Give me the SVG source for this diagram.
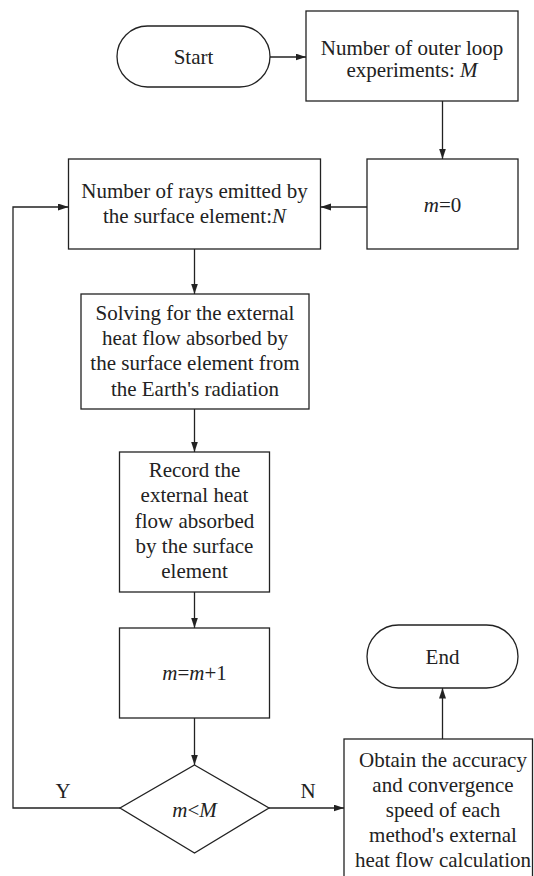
<svg xmlns="http://www.w3.org/2000/svg" width="534" height="876" viewBox="0 0 534 876">
<defs>
<marker id="arr" markerUnits="userSpaceOnUse" markerWidth="11" markerHeight="8" refX="10.5" refY="3.5" orient="auto">
<path d="M0,0 L10.5,3.5 L0,7 z" fill="#222"/>
</marker>
<style>
.n{fill:#fff;stroke:#222;stroke-width:1.3}
.t{font-family:"Liberation Serif","Times New Roman",serif;font-size:21px;fill:#222;text-anchor:middle}
.i{font-style:italic}
.c{fill:none;stroke:#222;stroke-width:1.3}
</style>
</defs>
<rect width="534" height="876" fill="#fff"/>
<g id="start">
<rect class="n" x="117" y="26" width="153" height="61" rx="30.5"/>
<text class="t" x="193.5" y="63.5">Start</text>
</g>
<g id="outer">
<rect class="n" x="306" y="11" width="212" height="90"/>
<text class="t" x="412" y="55">Number of outer loop</text>
<text class="t" x="412" y="77">experiments: <tspan class="i">M</tspan></text>
</g>
<g id="m0">
<rect class="n" x="367" y="159" width="151" height="90"/>
<text class="t" x="442.5" y="212"><tspan class="i">m</tspan>=0</text>
</g>
<g id="rays">
<rect class="n" x="68.5" y="159" width="252" height="90"/>
<text class="t" x="194.5" y="198">Number of rays emitted by</text>
<text class="t" x="194.5" y="223">the surface element:<tspan class="i">N</tspan></text>
</g>
<g id="solve">
<rect class="n" x="81" y="294" width="228" height="115"/>
<text class="t" x="195" y="320">Solving for the external</text>
<text class="t" x="195" y="345">heat flow absorbed by</text>
<text class="t" x="195" y="370">the surface element from</text>
<text class="t" x="195" y="395.5">the Earth's radiation</text>
</g>
<g id="record">
<rect class="n" x="119.5" y="452" width="150" height="140"/>
<text class="t" x="194.5" y="477">Record the</text>
<text class="t" x="194.5" y="502">external heat</text>
<text class="t" x="194.5" y="527.5">flow absorbed</text>
<text class="t" x="194.5" y="553">by the surface</text>
<text class="t" x="194.5" y="578">element</text>
</g>
<g id="inc">
<rect class="n" x="119.5" y="628" width="150" height="90"/>
<text class="t" x="194.5" y="680"><tspan class="i">m</tspan>=<tspan class="i">m</tspan>+1</text>
</g>
<g id="decision">
<polygon class="n" points="194.5,765 269,808 194.5,853 120,808"/>
<text class="t" x="194.5" y="817"><tspan class="i">m</tspan>&lt;<tspan class="i">M</tspan></text>
</g>
<g id="obtain">
<rect class="n" x="344" y="739" width="188.5" height="160"/>
<text class="t" x="443" y="767">Obtain the accuracy</text>
<text class="t" x="443" y="792">and convergence</text>
<text class="t" x="443" y="817">speed of each</text>
<text class="t" x="443" y="842">method's external</text>
<text class="t" x="443" y="867">heat flow calculation</text>
</g>
<g id="end">
<rect class="n" x="367" y="625" width="151" height="63" rx="31.5"/>
<text class="t" x="442.5" y="664">End</text>
</g>
<g id="connectors">
<path class="c" d="M270,57 H306" marker-end="url(#arr)"/>
<path class="c" d="M442.5,101 V159" marker-end="url(#arr)"/>
<path class="c" d="M367,207 H320.5" marker-end="url(#arr)"/>
<path class="c" d="M194.5,249 V294" marker-end="url(#arr)"/>
<path class="c" d="M194.5,409 V452" marker-end="url(#arr)"/>
<path class="c" d="M194.5,592 V628" marker-end="url(#arr)"/>
<path class="c" d="M194.5,718 V765" marker-end="url(#arr)"/>
<path class="c" d="M120,808 H13 V207 H68.5" marker-end="url(#arr)"/>
<path class="c" d="M269,808 H344" marker-end="url(#arr)"/>
<path class="c" d="M442.5,739 V688" marker-end="url(#arr)"/>
<text class="t" x="63" y="798">Y</text>
<text class="t" x="308" y="798">N</text>
</g>
</svg>
